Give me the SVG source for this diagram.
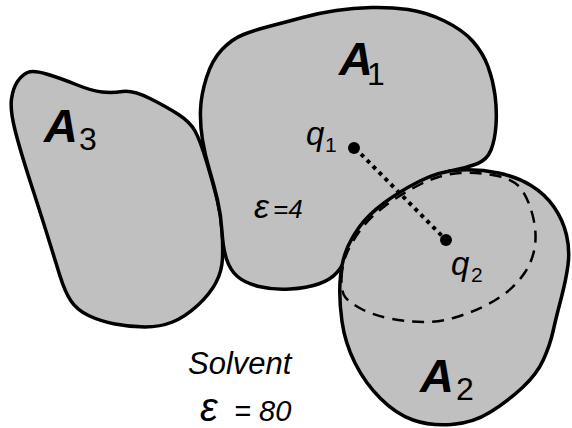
<svg xmlns="http://www.w3.org/2000/svg" width="572" height="428" viewBox="0 0 572 428">
<style>
.blob{fill:#c0c0c0;stroke:#000;stroke-width:3.5;stroke-linejoin:round}
.t{font-family:"Liberation Sans",Arial,Helvetica,sans-serif;fill:#000}
.big{font-size:47px;font-weight:bold;font-style:italic}
.sub{font-size:32px}
.it{font-style:italic}
</style>
<rect width="572" height="428" fill="#fff"/>
<g id="A3">
<path class="blob" d="M46.5,74 Q60,78 76,84.5 Q92,91 102,92 Q112,93 122.5,91.5 Q133,90 150,98.5 Q167,107 178.5,114.5 Q190,122 195,131 Q200,140 206.5,161.5 Q213,183 217,199 Q221,215 222,230 Q223,245 222.5,258 Q222,271 216,282.5 Q210,294 197.5,305.5 Q185,317 172.5,322 Q160,327 145,327 Q130,327 115,324 Q100,321 88.5,315.5 Q77,310 71,301 Q65,292 60,276 Q55,260 49,240.5 Q43,221 31.5,185.5 Q20,150 15,130 Q10,110 11.5,99 Q13,88 17.5,81.5 Q22,75 27.5,72.5 Q33,70 46.5,74 Z"/>
<text class="t"><tspan class="big" x="44" y="142">A</tspan><tspan class="sub" x="79" y="150">3</tspan></text>
</g>
<g id="A1">
<path class="blob" d="M302.5,17.5 Q319,13 336,10.5 Q353,8 371.5,7.5 Q390,7 408,9.5 Q426,12 444.5,21 Q463,30 473,41.5 Q483,53 488,66.5 Q493,80 495,95 Q497,110 496,125 Q495,140 491,150 Q487,160 476.5,164 Q466,168 454.5,170 Q443,172 424,181 Q405,190 391.5,199 Q378,208 369,216.5 Q360,225 355,235 Q350,245 346.5,255.5 Q343,266 336.5,273 Q330,280 318.5,284 Q307,288 290,289 Q273,290 259,286.5 Q245,283 237.5,276.5 Q230,270 226.5,259 Q223,248 222,231.5 Q221,215 217.5,200 Q214,185 209.5,170 Q205,155 202.5,140 Q200,125 200.5,110 Q201,95 206.5,77.5 Q212,60 222,49.5 Q232,39 243.5,34.5 Q255,30 270.5,26 Q286,22 302.5,17.5 Z"/>
<text class="t"><tspan class="big" x="339" y="75">A</tspan><tspan class="sub" x="367" y="85">1</tspan></text>
<text class="t it" x="254" y="218"><tspan font-size="34">ε</tspan><tspan font-size="26" x="273">=4</tspan></text>
</g>
<g id="A2">
<path class="blob" d="M460,170 Q480,169 498.5,173 Q517,177 531,185.5 Q545,194 554,207 Q563,220 566.5,235 Q570,250 568,265 Q566,280 561,299 Q556,318 553,331.5 Q550,345 543.5,359.5 Q537,374 522.5,387.5 Q508,401 490.5,412 Q473,423 451.5,424.5 Q430,426 413,420 Q396,414 380.5,398.5 Q365,383 355,363 Q345,343 342,321.5 Q339,300 340,282.5 Q341,265 345.5,252.5 Q350,240 359,227.5 Q368,215 384,203 Q400,191 420,181 Q440,171 460,170 Z"/>
<path fill="none" stroke="#000" stroke-width="2.5" stroke-dasharray="12 8" d="M341.5,278.5 Q342,265 346.5,254 Q351,243 360,230.5 Q369,218 385,206 Q401,194 421,184 Q441,174 460.5,173 Q480,172 498,176 Q516,180 523,191.5 Q530,203 533.5,219 Q537,235 534.5,248.5 Q532,262 524.5,273 Q517,284 507,292 Q497,300 483.5,306.5 Q470,313 455,317.5 Q440,322 423.5,322 Q407,322 390,318.5 Q373,315 361.5,309 Q350,303 345.5,297.5 Q341,292 341.5,278.5 Z"/>
<text class="t"><tspan class="big" x="420" y="392">A</tspan><tspan class="sub" x="456" y="400">2</tspan></text>
</g>
<g id="connectors">
<line x1="355" y1="148" x2="446" y2="240" stroke="#000" stroke-width="4" stroke-dasharray="4 4.5"/>
</g>
<g id="q1">
<circle cx="354" cy="148" r="6" fill="#000"/>
<text class="t"><tspan class="it" font-size="33" x="306" y="145">q</tspan><tspan font-size="21" x="325" y="152">1</tspan></text>
</g>
<g id="q2">
<circle cx="446" cy="240" r="6" fill="#000"/>
<text class="t"><tspan class="it" font-size="33" x="451" y="275">q</tspan><tspan font-size="21" x="471" y="282">2</tspan></text>
</g>
<g id="solvent">
<text class="t it" font-size="31" x="188" y="374">Solvent</text>
<text class="t it" y="421"><tspan font-size="40" x="200">ε</tspan><tspan font-size="29" x="226"> = 80</tspan></text>
</g>
</svg>
